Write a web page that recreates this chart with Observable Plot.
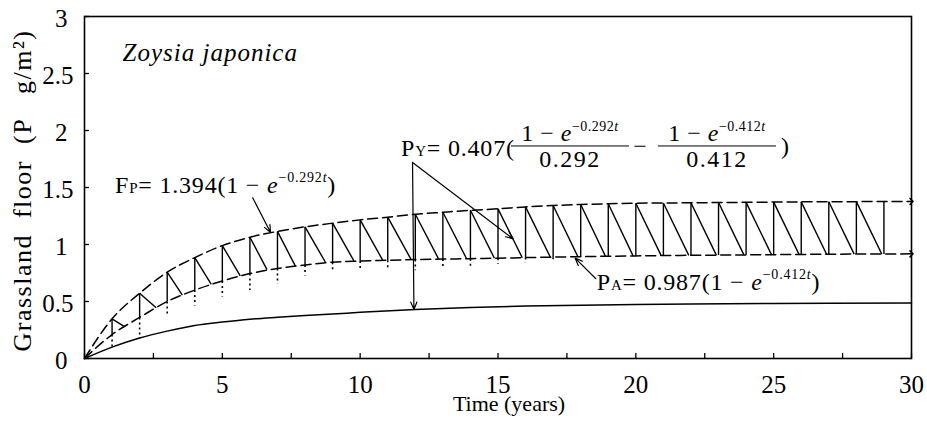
<!DOCTYPE html>
<html><head><meta charset="utf-8">
<script src="https://cdn.jsdelivr.net/npm/d3@7"></script>
<script src="https://cdn.jsdelivr.net/npm/@observablehq/plot@0.6"></script>
<style>
body{margin:0;background:#fff;}
#chart svg, #chart svg text, #chart svg tspan { font-family: "Liberation Serif", "Times New Roman", serif !important; }
</style></head><body><div id="chart"></div>
<script>
// ---- data ----
const years   = [0,1,2,3,4,5,6,7,8,9,10,11,12,13,14,15,16,17,18,19,20,21,22,23,24,25,26,27,28,29,30];
// upper dashed curve (F_P)
const upperFP = [0,0.348,0.572,0.757,0.885,0.99,1.064,1.115,1.155,1.187,1.216,1.24,1.265,1.283,1.3,1.313,1.33,1.342,1.351,1.357,1.362,1.364,1.366,1.368,1.37,1.372,1.374,1.375,1.376,1.377,1.378];
// lower dashed curve (P_A)
const lowerPA = [0,0.21,0.36,0.5,0.6,0.68,0.745,0.79,0.82,0.845,0.855,0.862,0.868,0.872,0.876,0.88,0.885,0.889,0.893,0.897,0.9,0.903,0.905,0.907,0.909,0.911,0.913,0.915,0.916,0.917,0.918];
// solid curve (P_Y)
const yieldT  = [0,1,2,3,4,5,6,7,8,9,10,12,14,16,18,20,22,25,30];
const yieldPY = [0,0.1,0.18,0.24,0.29,0.32,0.345,0.362,0.377,0.39,0.405,0.43,0.448,0.46,0.468,0.474,0.478,0.482,0.487];
// annual sawtooth
const sawYears  = [1,2,3,4,5,6,7,8,9,10,11,12,13,14,15,16,17,18,19,20,21,22,23,24,25,26,27,28,29];
const diagYears = [1,2,3,4,5,6,7,8,9,10,11,12,13,14,15,16,17,18,19,20,21,22,23,24,25,26,27,28];
const diagEndT  = [1.45,2.6,3.55,4.6,5.65,6.62,7.65,8.75,9.78,10.82,11.85,12.85,13.86,14.87,15.88,16.9,17.9,18.9,19.9,20.92,21.92,22.92,23.92,24.92,25.92,26.92,27.92,28.92];
const diagEndV  = [0.28,0.445,0.555,0.65,0.725,0.78,0.81,0.84,0.853,0.861,0.867,0.871,0.875,0.879,0.884,0.888,0.892,0.896,0.9,0.902,0.905,0.907,0.909,0.911,0.913,0.915,0.916,0.917,0.918];
const dotYears  = [1,2,3,4,5,6,7,8,9,10,11,12,13,14,15,16,17];
const dotLow    = [0.1,0.175,0.37,0.465,0.544,0.6,0.655,0.728,0.78,0.775,0.79,0.775,0.79,0.8,0.83,0.84,0.86];
// axes
const xTicks      = [0,5,10,15,20,25,30];
const xMinorTicks = [0,2.5,5,7.5,10,12.5,15,17.5,20,22.5,25,27.5,30];
const yTicksInt   = [0,1,2,3];
const yTicksHalf  = [0.5,1.5,2.5];
const yTicksAll   = [0,0.5,1,1.5,2,2.5,3];
const xTitle = "Time\u00a0(years)";
const yTitle = "Grassland\u00a0\u00a0floor\u00a0\u00a0(P\u00a0\u00a0\u00a0g/m\u00b2)";
const species = [{t:1.38, v:2.614, text:"Zoysia japonica"}];
// annotation arrows
const arrows = [
  {x1:6.1,  y1:1.41, x2:6.75,  y2:1.105},
  {x1:11.9, y1:1.72, x2:11.95, y2:0.43},
  {x1:11.9, y1:1.72, x2:15.55, y2:1.05},
  {x1:18.55,y1:0.70, x2:17.8,  y2:0.88}
];
const eqFP = {t:1.125, v:1.447};
const eqPA = {t:18.6, v:0.596};
const eqPY = {t:11.5, v:1.772, frac1:17.63, frac2:22.96, bar:1.86, minus:20.17, paren:25.43};

const F = "Liberation Serif";
const MINUS = "\u2212";

function expr(g, x, y, size, parts, anchor = "start") {
  const t = g.append("text").attr("x", x).attr("y", y).attr("font-size", size)
    .attr("text-anchor", anchor).attr("font-family", F).attr("fill", "black");
  let cur = 0;
  for (const p of parts) {
    const sp = t.append("tspan").text(p.s);
    const target = p.dy || 0;
    if (target !== cur) { sp.attr("dy", target - cur); cur = target; }
    if (p.size) sp.attr("font-size", p.size);
    if (p.it) sp.attr("font-style", "italic");
  }
  return t;
}

function numer(code) {
  return [{s:"1 " + MINUS + " "}, {s:"e", it:true}, {s:MINUS + "0." + code, size:14, dy:-10}, {s:"t", size:14, dy:-10, it:true}];
}

function equations(index, scales) {
  const g = d3.create("svg:g");
  const X = scales.x, Y = scales.y;
  expr(g, X(eqFP.t), Y(eqFP.v), 24, [
    {s:"F"}, {s:"P", size:15}, {s:"= 1.394(1 " + MINUS + " "}, {s:"e", it:true},
    {s:MINUS + "0.292", size:14, dy:-11}, {s:"t", size:14, dy:-11, it:true}, {s:")", dy:0}
  ]).attr("letter-spacing", 0.8);
  expr(g, X(eqPA.t), Y(eqPA.v), 24, [
    {s:"P"}, {s:"A", size:15}, {s:"= 0.987(1 " + MINUS + " "}, {s:"e", it:true},
    {s:MINUS + "0.412", size:14, dy:-11}, {s:"t", size:14, dy:-11, it:true}, {s:")", dy:0}
  ]).attr("letter-spacing", 0.8);
  expr(g, X(eqPY.t), Y(eqPY.v), 24, [{s:"P"}, {s:"Y", size:15}, {s:"= 0.407("}]).attr("letter-spacing", 0.8);
  const yb = Y(eqPY.bar);
  for (const [c, code] of [[eqPY.frac1, "292"], [eqPY.frac2, "412"]]) {
    const cx = X(c);
    expr(g, cx, yb - 5, 24, numer(code), "middle").attr("letter-spacing", 0.5);
    expr(g, cx, yb + 21, 24, [{s:"0." + code}], "middle").attr("letter-spacing", 1.5);
    g.append("line").attr("x1", cx - 59).attr("x2", cx + 59).attr("y1", yb).attr("y2", yb)
      .attr("stroke", "black").attr("stroke-width", 1);
  }
  expr(g, X(eqPY.minus), yb + 8, 24, [{s:MINUS}], "middle");
  expr(g, X(eqPY.paren), yb + 8, 24, [{s:")"}], "middle");
  return g.node();
}

const upperData = years.map((t, i) => ({t, v: upperFP[i]}));
const lowerData = years.map((t, i) => ({t, v: lowerPA[i]}));
const yieldData = yieldT.map((t, i) => ({t, v: yieldPY[i]}));
const fmt = d => String(d);

const chart = Plot.plot({
  width: 927, height: 425,
  marginLeft: 84, marginRight: 16, marginTop: 16, marginBottom: 67,
  x: {domain: [0, 30]},
  y: {domain: [0, 3]},
  style: {fontFamily: F, background: "white", color: "black"},
  marks: [
    Plot.axisX(xMinorTicks, {tickSize: -5, tickFormat: () => "", strokeWidth: 1.3}),
    Plot.axisX(xTicks, {tickSize: 0, tickPadding: 17, fontSize: 25, tickFormat: fmt, label: null}),
    Plot.axisY(yTicksAll, {tickSize: -5, tickFormat: () => "", strokeWidth: 1.3}),
    Plot.axisY(yTicksInt, {tickSize: 0, tickPadding: 17, fontSize: 25, tickFormat: fmt, label: null, dy: 2}),
    Plot.axisY(yTicksHalf, {tickSize: 0, tickPadding: 11, fontSize: 25, tickFormat: fmt, label: null, dy: 2}),
    Plot.frame({stroke: "black", strokeWidth: 1.6}),
    Plot.line(yieldData, {x: "t", y: "v", curve: "monotone-x", stroke: "black", strokeWidth: 1.5}),
    Plot.line(upperData, {x: "t", y: "v", curve: "monotone-x", stroke: "black", strokeWidth: 1.5, strokeDasharray: "10,5", markerEnd: "arrow"}),
    Plot.line(lowerData, {x: "t", y: "v", curve: "monotone-x", stroke: "black", strokeWidth: 1.5, strokeDasharray: "10,5", markerEnd: "arrow"}),
    Plot.link(sawYears, {x1: k => k, y1: k => lowerPA[k], x2: k => k, y2: k => upperFP[k], stroke: "black", strokeWidth: 1.4}),
    Plot.link(diagYears, {x1: k => k, y1: k => upperFP[k], x2: (k, i) => diagEndT[i], y2: (k, i) => diagEndV[i], stroke: "black", strokeWidth: 1.4}),
    Plot.link(dotYears, {x1: k => k, y1: k => lowerPA[k], x2: k => k, y2: (k, i) => dotLow[i], stroke: "black", strokeWidth: 1.6, strokeDasharray: "2,3"}),
    Plot.arrow(arrows, {x1: "x1", y1: "y1", x2: "x2", y2: "y2", stroke: "black", strokeWidth: 1.2, headLength: 10, headAngle: 45}),
    Plot.text(species, {x: "t", y: "v", text: "text", textAnchor: "start", lineAnchor: "bottom", fontSize: 25, fontStyle: "italic", fill: "black", stroke: null}),
    Plot.text([xTitle], {text: d => d, frameAnchor: "bottom", textAnchor: "middle", lineAnchor: "bottom", dy: 52, dx: 11, fontSize: 22, fill: "black"}),
    Plot.text([yTitle], {text: d => d, frameAnchor: "left", textAnchor: "middle", rotate: -90, lineAnchor: "middle", dx: -62, dy: 3, fontSize: 26, fill: "black"}),
    equations
  ]
});
// letter spacing for the titles (as in the typeset original)
d3.select(chart).selectAll("text").filter(function() { return this.textContent === yTitle; }).attr("letter-spacing", 1.5);
d3.select(chart).selectAll("text").filter(function() { return this.textContent === species[0].text; }).attr("letter-spacing", 1);
document.getElementById("chart").appendChild(chart);
</script>
</body></html>
